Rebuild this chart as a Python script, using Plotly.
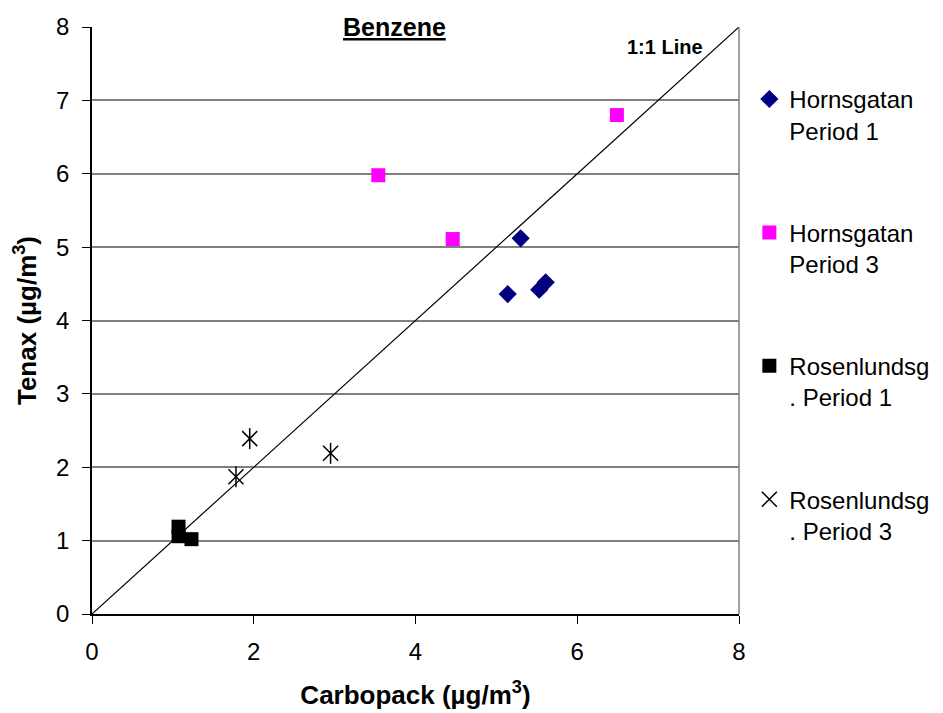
import plotly.graph_objects as go

# ---- data ----
hp1_x = [5.30, 5.14, 5.53, 5.61]
hp1_y = [5.12, 4.36, 4.42, 4.52]
hp3_x = [3.54, 4.46, 6.49]
hp3_y = [5.98, 5.11, 6.80]
rp1_x = [1.07, 1.07, 1.23]
rp1_y = [1.19, 1.06, 1.02]
rp3_x = [1.95, 2.95, 1.78]
rp3_y = [2.39, 2.19, 1.87]
line_x = [0, 8]
line_y = [0, 8]

names = ["Hornsgatan<br>Period 1", "Hornsgatan<br>Period 3",
         "Rosenlundsg<br>. Period 1", "Rosenlundsg<br>. Period 3"]
x_ticks = [0, 2, 4, 6, 8]
y_ticks = [0, 1, 2, 3, 4, 5, 6, 7, 8]

FONT = "Arial, Liberation Sans, sans-serif"

fig = go.Figure()
fig.add_trace(go.Scatter(x=line_x, y=line_y, mode="lines",
                         line=dict(color="black", width=1.2),
                         showlegend=False, hoverinfo="skip"))
fig.add_trace(go.Scatter(x=hp1_x, y=hp1_y, mode="markers", name=names[0],
                         legendgroup="g1",
                         marker=dict(symbol="diamond", size=14, color="#000080")))
fig.add_trace(go.Scatter(x=hp3_x, y=hp3_y, mode="markers", name=names[1],
                         legendgroup="g2",
                         marker=dict(symbol="square", size=14, color="#FF00FF")))
fig.add_trace(go.Scatter(x=rp1_x, y=rp1_y, mode="markers", name=names[2],
                         legendgroup="g3",
                         marker=dict(symbol="square", size=14, color="#000000")))
fig.add_trace(go.Scatter(x=rp3_x, y=rp3_y, mode="markers", name=names[3],
                         legendgroup="g4",
                         marker=dict(symbol="x-thin-open", size=15, color="black",
                                     line=dict(color="black", width=1.5))))
fig.add_trace(go.Scatter(x=rp3_x, y=rp3_y, mode="markers", name=names[3],
                         legendgroup="g4", showlegend=False,
                         marker=dict(symbol="line-ns-open", size=15, color="black",
                                     line=dict(color="black", width=1.5))))

fig.update_layout(
    width=943, height=713,
    margin=dict(l=92, r=204, t=27, b=99, autoexpand=False),
    paper_bgcolor="white", plot_bgcolor="white",
    font=dict(family=FONT, color="black"),
    xaxis=dict(range=[0, 8], tickvals=x_ticks, showgrid=False, zeroline=False,
               showline=True, linecolor="black", linewidth=1.5,
               ticks="outside", ticklen=8, tickcolor="black",
               tickfont=dict(size=24), ticklabelstandoff=7,
               title=dict(text="<b>Carbopack (µg/m<sup>3</sup>)</b>",
                          font=dict(size=26), standoff=22)),
    yaxis=dict(range=[0, 8], tickvals=y_ticks, showgrid=True,
               gridcolor="#808080", gridwidth=1.5, zeroline=False,
               showline=True, linecolor="black", linewidth=1.5,
               ticks="outside", ticklen=8, tickcolor="black",
               tickfont=dict(size=24), ticklabelstandoff=8,
               title=dict(text="<b>Tenax (µg/m<sup>3</sup>)</b>",
                          font=dict(size=26), standoff=12)),
    legend=dict(x=1.016, xanchor="left", y=0.915, yanchor="top",
                valign="top", tracegroupgap=68,
                font=dict(size=24), bgcolor="rgba(0,0,0,0)"),
    showlegend=True,
    shapes=[dict(type="line", xref="paper", yref="paper", x0=1, x1=1, y0=0, y1=1,
                 line=dict(color="#808080", width=1.5))],
    annotations=[
        dict(text="<b><u>Benzene</u></b>", xref="paper", yref="paper",
             x=0.467, y=1, xanchor="center", yanchor="middle", showarrow=False,
             bgcolor="white", borderpad=8, font=dict(size=25)),
        dict(text="<b>1:1 Line</b>", xref="paper", yref="paper",
             x=0.886, y=0.966, xanchor="center", yanchor="middle", showarrow=False,
             font=dict(size=20)),
    ],
)

fig.write_html("out.html")
